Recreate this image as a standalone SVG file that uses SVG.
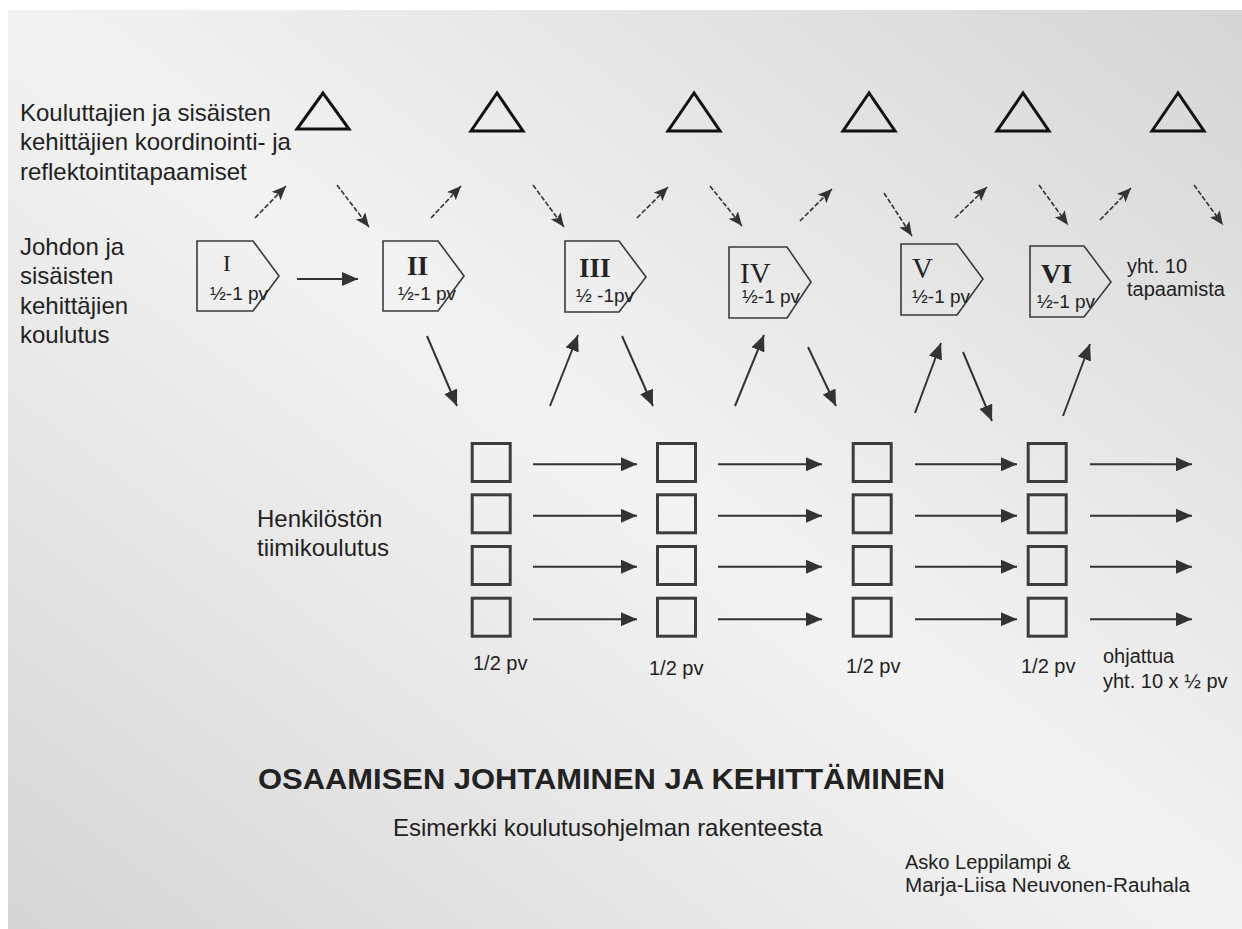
<svg xmlns="http://www.w3.org/2000/svg" width="1242" height="929" viewBox="0 0 1242 929">
<defs>
<linearGradient id="bg" x1="1" y1="0" x2="0" y2="1">
<stop offset="0" stop-color="#d6d6d6"/>
<stop offset="0.5" stop-color="#f3f3f3"/>
<stop offset="1" stop-color="#d6d6d6"/>
</linearGradient>
<marker id="ah" markerUnits="userSpaceOnUse" markerWidth="17" markerHeight="14" refX="16" refY="7" orient="auto">
<path d="M0,0 L16,7 L0,14 z" fill="#333"/>
</marker>
<marker id="ahs" markerUnits="userSpaceOnUse" markerWidth="15" markerHeight="13" refX="14" refY="6" orient="auto">
<path d="M0,0 L14,6 L0,12 L3,6 z" fill="#333"/>
</marker>
</defs>
<style>
.t{font-family:"Liberation Sans",Arial,sans-serif;fill:#222;}
.l24{font-size:24px;}
.l20{font-size:20px;}
.l19{font-size:19px;}
.rn{font-family:"Liberation Serif","Times New Roman",serif;fill:#222;}
.pent{fill:none;stroke:#3a3a3a;stroke-width:1.6;}
.sq{fill:none;stroke:#3d3d3d;stroke-width:3;}
.tri{fill:none;stroke:#111;stroke-width:3;stroke-linejoin:miter;}
.arr{fill:none;stroke:#333;stroke-width:2;marker-end:url(#ah);}
.dash{fill:none;stroke:#333;stroke-width:1.6;stroke-dasharray:5 2;marker-end:url(#ahs);}
</style>
<rect x="0" y="0" width="1242" height="929" fill="#ffffff"/>
<rect x="8" y="10" width="1234" height="919" fill="url(#bg)"/>

<g id="labels">
<text class="t l24" x="20" y="121">Kouluttajien ja sisäisten</text>
<text class="t l24" x="20" y="150">kehittäjien koordinointi- ja</text>
<text class="t l24" x="20" y="180">reflektointitapaamiset</text>
<text class="t l24" x="20" y="255">Johdon ja</text>
<text class="t l24" x="20" y="284">sisäisten</text>
<text class="t l24" x="20" y="314">kehittäjien</text>
<text class="t l24" x="20" y="343">koulutus</text>
<text class="t l24" x="257" y="527">Henkilöstön</text>
<text class="t l24" x="257" y="556">tiimikoulutus</text>
<text class="t l20" x="1127" y="273">yht. 10</text>
<text class="t l20" x="1127" y="296">tapaamista</text>
<text class="t l20" x="473" y="670">1/2 pv</text>
<text class="t l20" x="649" y="675">1/2 pv</text>
<text class="t l20" x="846" y="673">1/2 pv</text>
<text class="t l20" x="1021" y="673">1/2 pv</text>
<text class="t l20" x="1103" y="663">ohjattua</text>
<text class="t l20" x="1103" y="688">yht. 10 x ½ pv</text>
<text class="t" x="258" y="789" font-size="30" font-weight="bold" textLength="687" lengthAdjust="spacingAndGlyphs">OSAAMISEN JOHTAMINEN JA KEHITTÄMINEN</text>
<text class="t l24" x="393" y="836">Esimerkki koulutusohjelman rakenteesta</text>
<text class="t l20" x="905" y="869">Asko Leppilampi &amp;</text>
<text class="t l20" x="905" y="892" textLength="285" lengthAdjust="spacingAndGlyphs">Marja-Liisa Neuvonen-Rauhala</text>
</g>

<g id="triangles">
<polygon id="tri1" class="tri" points="323,93 297,129 349,129"/>
<polygon id="tri2" class="tri" points="497,93 471,131 523,131"/>
<polygon id="tri3" class="tri" points="694,93 668,131 720,131"/>
<polygon id="tri4" class="tri" points="869,93 843,131 895,131"/>
<polygon id="tri5" class="tri" points="1023,93 997,131 1049,131"/>
<polygon id="tri6" class="tri" points="1178,93 1152,131 1204,131"/>
</g>

<g id="p1"><polygon class="pent" points="197,241 253,241 279,276 253,311 197,311"/>
<text class="rn" x="223" y="271" font-size="23">I</text>
<text class="t l19" x="210" y="300">½-1 pv</text></g>
<g id="p2"><polygon class="pent" points="383,241 438,241 464,276 438,311 383,311"/>
<text class="rn" x="407" y="275" font-size="27" font-weight="bold">II</text>
<text class="t l19" x="398" y="300">½-1 pv</text></g>
<g id="p3"><polygon class="pent" points="565,241 619,241 646,277 619,312 565,312"/>
<text class="rn" x="579" y="277" font-size="27" font-weight="bold">III</text>
<text class="t l19" x="576" y="302">½ -1pv</text></g>
<g id="p4"><polygon class="pent" points="729,247 787,247 811,282 787,318 729,318"/>
<text class="rn" x="740" y="283" font-size="29">IV</text>
<text class="t l19" x="742" y="303">½-1 pv</text></g>
<g id="p5"><polygon class="pent" points="901,244 957,244 983,279 957,315 901,315"/>
<text class="rn" x="912" y="278" font-size="29">V</text>
<text class="t l19" x="912" y="303">½-1 pv</text></g>
<g id="p6"><polygon class="pent" points="1030,246 1084,246 1111,282 1084,317 1030,317"/>
<text class="rn" x="1041" y="283" font-size="28" font-weight="bold">VI</text>
<text class="t l19" x="1037" y="308">½-1 pv</text></g>

<g id="col1">
<rect class="sq" x="472.2" y="443.5" width="38" height="38"/>
<rect class="sq" x="472.2" y="494.8" width="38" height="38"/>
<rect class="sq" x="472.2" y="546.5" width="38" height="38"/>
<rect class="sq" x="472.2" y="598.2" width="38" height="38"/>
</g>
<g id="col2">
<rect class="sq" x="657.5" y="443.5" width="38" height="38"/>
<rect class="sq" x="657.5" y="494.8" width="38" height="38"/>
<rect class="sq" x="657.5" y="546.5" width="38" height="38"/>
<rect class="sq" x="657.5" y="598.2" width="38" height="38"/>
</g>
<g id="col3">
<rect class="sq" x="853.2" y="443.5" width="38" height="38"/>
<rect class="sq" x="853.2" y="494.8" width="38" height="38"/>
<rect class="sq" x="853.2" y="546.5" width="38" height="38"/>
<rect class="sq" x="853.2" y="598.2" width="38" height="38"/>
</g>
<g id="col4">
<rect class="sq" x="1028.2" y="443.5" width="38" height="38"/>
<rect class="sq" x="1028.2" y="494.8" width="38" height="38"/>
<rect class="sq" x="1028.2" y="546.5" width="38" height="38"/>
<rect class="sq" x="1028.2" y="598.2" width="38" height="38"/>
</g>

<g id="connectors">
<line class="dash" x1="255" y1="218" x2="286" y2="186"/>
<line class="dash" x1="337" y1="185" x2="369" y2="227"/>
<line class="dash" x1="431" y1="218" x2="461" y2="186"/>
<line class="dash" x1="533" y1="185" x2="564" y2="227"/>
<line class="dash" x1="637" y1="218" x2="668" y2="187"/>
<line class="dash" x1="710" y1="186" x2="742" y2="226"/>
<line class="dash" x1="800" y1="221" x2="832" y2="189"/>
<line class="dash" x1="884" y1="193" x2="912" y2="236"/>
<line class="dash" x1="955" y1="218" x2="987" y2="187"/>
<line class="dash" x1="1039" y1="185" x2="1068" y2="225"/>
<line class="dash" x1="1100" y1="220" x2="1131" y2="188"/>
<line class="dash" x1="1194" y1="185" x2="1223" y2="225"/>

<line class="arr" x1="297" y1="279" x2="358" y2="279"/>

<line class="arr" x1="427" y1="336" x2="457" y2="406"/>
<line class="arr" x1="550" y1="406" x2="578" y2="335"/>
<line class="arr" x1="622" y1="336" x2="653" y2="406"/>
<line class="arr" x1="735" y1="406" x2="764" y2="335"/>
<line class="arr" x1="808" y1="347" x2="836" y2="406"/>
<line class="arr" x1="915" y1="413" x2="941" y2="343"/>
<line class="arr" x1="963" y1="352" x2="992" y2="421"/>
<line class="arr" x1="1063" y1="416" x2="1090" y2="344"/>

<line class="arr" x1="533" y1="464.3" x2="637" y2="464.3"/>
<line class="arr" x1="533" y1="515.8" x2="637" y2="515.8"/>
<line class="arr" x1="533" y1="566.7" x2="637" y2="566.7"/>
<line class="arr" x1="533" y1="619.2" x2="637" y2="619.2"/>
<line class="arr" x1="718" y1="464.3" x2="822" y2="464.3"/>
<line class="arr" x1="718" y1="515.8" x2="822" y2="515.8"/>
<line class="arr" x1="718" y1="566.7" x2="822" y2="566.7"/>
<line class="arr" x1="718" y1="619.2" x2="822" y2="619.2"/>
<line class="arr" x1="915" y1="464.3" x2="1017" y2="464.3"/>
<line class="arr" x1="915" y1="515.8" x2="1017" y2="515.8"/>
<line class="arr" x1="915" y1="566.7" x2="1017" y2="566.7"/>
<line class="arr" x1="915" y1="619.2" x2="1017" y2="619.2"/>
<line class="arr" x1="1090" y1="464.3" x2="1192" y2="464.3"/>
<line class="arr" x1="1090" y1="515.8" x2="1192" y2="515.8"/>
<line class="arr" x1="1090" y1="566.7" x2="1192" y2="566.7"/>
<line class="arr" x1="1090" y1="619.2" x2="1192" y2="619.2"/>
</g>
</svg>
